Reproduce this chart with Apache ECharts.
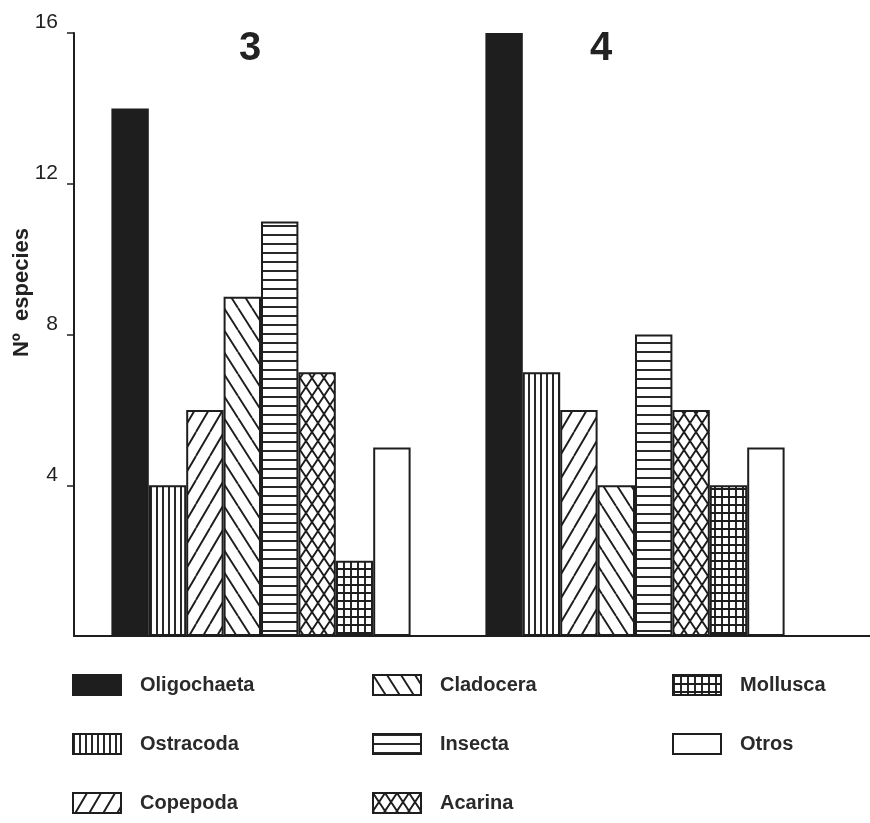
<!DOCTYPE html>
<html><head><meta charset="utf-8">
<script src="https://cdn.jsdelivr.net/npm/echarts@6/dist/echarts.min.js"></script>
<style>html,body{margin:0;padding:0;background:#fff}#c{width:870px;height:823px}</style>
</head><body><div id="c"></div><script>
// ---- data ----
const sites = ['3', '4'];
const taxa = ['Oligochaeta', 'Ostracoda', 'Copepoda', 'Cladocera', 'Insecta', 'Acarina', 'Mollusca', 'Otros'];
const oligochaeta = [14, 16];
const ostracoda = [4, 7];
const copepoda = [6, 6];
const cladocera = [9, 4];
const insecta = [11, 8];
const acarina = [7, 6];
const mollusca = [2, 4];
const otros = [5, 5];
const yTicks = [4, 8, 12, 16];
const yMax = 16;
const yStep = 4;
const yName = 'Nº  especies';

// ---- patterns ----
const INK = '#1e1e1e';
function tile(w, h, draw) {
  const c = document.createElement('canvas');
  c.width = w; c.height = h;
  const g = c.getContext('2d');
  g.fillStyle = '#fff'; g.fillRect(0, 0, w, h);
  g.strokeStyle = INK; g.lineWidth = 1.9;
  g.beginPath(); draw(g, w, h); g.stroke();
  return { image: c, repeat: 'repeat' };
}
const pats = {
  solid: INK,
  vert: tile(6, 6, (g, w, h) => { g.moveTo(1, 0); g.lineTo(1, h); }),
  slash: tile(14, 24, (g, w, h) => { for (let k = -1; k <= 1; k++) { g.moveTo(k * w, h); g.lineTo(k * w + w, 0); } }),
  back: tile(14, 22, (g, w, h) => { for (let k = -1; k <= 1; k++) { g.moveTo(k * w, 0); g.lineTo(k * w + w, h); } }),
  horiz: tile(9, 9, (g, w, h) => { g.moveTo(0, 1); g.lineTo(w, 1); }),
  cross: tile(12, 18, (g, w, h) => { for (let k = -1; k <= 1; k++) { g.moveTo(k * w, h); g.lineTo(k * w + w, 0); g.moveTo(k * w, 0); g.lineTo(k * w + w, h); } }),
  grid: tile(7, 8, (g, w, h) => { g.moveTo(1, 0); g.lineTo(1, h); g.moveTo(0, 1); g.lineTo(w, 1); }),
  empty: '#fff'
};
const seriesDefs = [
  [taxa[0], oligochaeta, pats.solid],
  [taxa[1], ostracoda, pats.vert],
  [taxa[2], copepoda, pats.slash],
  [taxa[3], cladocera, pats.back],
  [taxa[4], insecta, pats.horiz],
  [taxa[5], acarina, pats.cross],
  [taxa[6], mollusca, pats.grid],
  [taxa[7], otros, pats.empty]
];

const FONT = 'Liberation Sans, Arial, sans-serif';
const chart = echarts.init(document.getElementById('c'), null, { renderer: 'canvas' });
const legendBase = {
  orient: 'vertical', top: 674, padding: 0, itemWidth: 48, itemHeight: 20, itemGap: 37,
  icon: 'rect', selectedMode: false,
  textStyle: { fontFamily: FONT, fontSize: 20, fontWeight: 'bold', color: '#2a2a2a', padding: [0, 0, 0, 14] }
};
chart.setOption({
  animation: false,
  backgroundColor: '#fff',
  title: [
    { text: sites[0], left: 239, top: 29, padding: 0, textStyle: { fontFamily: FONT, fontSize: 40, fontWeight: 'bold', color: '#222' } },
    { text: sites[1], left: 590, top: 29, padding: 0, textStyle: { fontFamily: FONT, fontSize: 40, fontWeight: 'bold', color: '#222' } }
  ],
  legend: [
    Object.assign({}, legendBase, { left: 72, data: taxa.slice(0, 3) }),
    Object.assign({}, legendBase, { left: 372, data: taxa.slice(3, 6) }),
    Object.assign({}, legendBase, { left: 672, data: taxa.slice(6, 8) })
  ],
  grid: [
    { left: 74, right: 48, top: 33, bottom: 187, outerBoundsMode: 'none', containLabel: false },
    { left: 74, right: 0, top: 33, bottom: 187, outerBoundsMode: 'none', containLabel: false }
  ],
  xAxis: [
    { type: 'category', data: sites, gridIndex: 0, axisLine: { show: false }, axisTick: { show: false }, axisLabel: { show: false } },
    { type: 'value', gridIndex: 1, min: 0, max: 1, axisLine: { show: true, lineStyle: { color: INK, width: 2 } }, axisTick: { show: false }, axisLabel: { show: false }, splitLine: { show: false } }
  ],
  yAxis: [
    {
      type: 'value', gridIndex: 0, min: 0, max: yMax, interval: yStep,
      name: yName, nameLocation: 'middle', nameRotate: 90, nameGap: 41, nameMoveOverlap: false,
      nameTextStyle: { fontFamily: FONT, fontSize: 22, fontWeight: 'bold', color: '#222', padding: [0, 0, 0, 84] },
      axisLine: { show: true, lineStyle: { color: INK, width: 2 } },
      axisTick: { show: true, length: 7, customValues: yTicks, lineStyle: { color: INK, width: 1.5 } },
      axisLabel: { fontFamily: FONT, fontSize: 21, color: '#222', margin: 16, verticalAlign: 'bottom', customValues: yTicks },
      splitLine: { show: false }
    },
    { type: 'value', gridIndex: 1, min: 0, max: 1, show: false }
  ],
  series: seriesDefs.map(([name, data, fill]) => ({
    type: 'bar', name, data, xAxisIndex: 0, yAxisIndex: 0,
    barGap: '0%', barCategoryGap: '20%',
    itemStyle: { color: fill, borderColor: INK, borderWidth: 2 },
    emphasis: { disabled: true }
  }))
});
</script></body></html>
